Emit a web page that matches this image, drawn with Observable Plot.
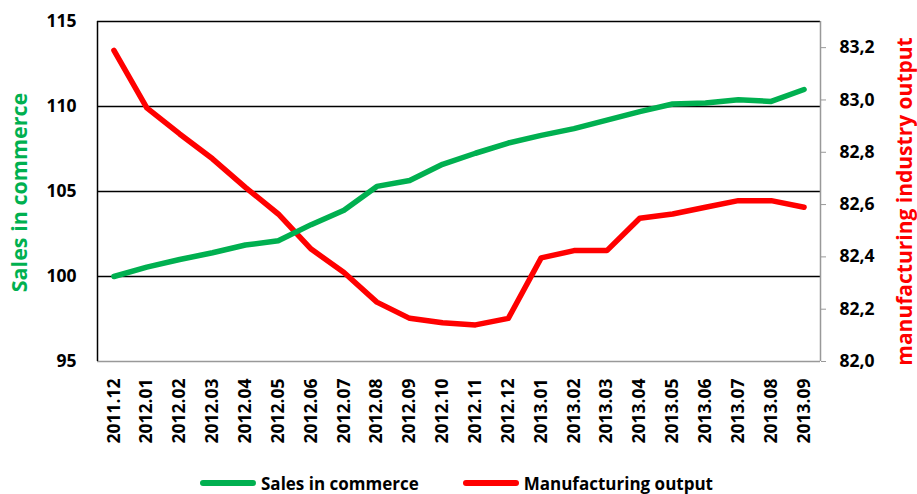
<!DOCTYPE html>
<html><head><meta charset="utf-8">
<script src="https://cdn.jsdelivr.net/npm/d3@7"></script>
<script src="https://cdn.jsdelivr.net/npm/@observablehq/plot@0.6"></script>
<style>
body{margin:0;background:#fff;font-family:"Open Sans",sans-serif;}
#legend{display:flex;height:32px;align-items:center;font-weight:700;font-size:17px;color:#000;}
.sw{display:inline-block;width:56px;height:6px;border-radius:3px;margin-right:5px;}
svg text{font-weight:700;}
</style></head><body>
<div id="chart"></div>
<div id="legend"></div>
<script>
const months = ["2011.12","2012.01","2012.02","2012.03","2012.04","2012.05","2012.06","2012.07","2012.08","2012.09","2012.10","2012.11","2012.12","2013.01","2013.02","2013.03","2013.04","2013.05","2013.06","2013.07","2013.08","2013.09"];
const sales = [100.0,100.55,101.0,101.4,101.85,102.1,103.05,103.9,105.3,105.65,106.6,107.25,107.85,108.3,108.7,109.2,109.7,110.15,110.2,110.4,110.3,111.0];
const manufacturing = [83.19,82.97,82.87,82.775,82.666,82.564,82.43,82.34,82.227,82.165,82.148,82.14,82.165,82.396,82.424,82.424,82.548,82.564,82.59,82.615,82.615,82.59];
const leftTicks = [95,100,105,110,115];
const rightTicks = [82.0,82.2,82.4,82.6,82.8,83.0,83.2];
const seriesNames = ["Sales in commerce","Manufacturing output"];
const colors = ["#00B050","#FF0000"];

const L0 = 95, L1 = 115, R0 = 82.0, R1 = 83.3;
const toLeft = v => L0 + (v - R0) * (L1 - L0) / (R1 - R0);

const salesData = sales.map((v,i)=>({i, v}));
const manData = manufacturing.map((v,i)=>({i, v: toLeft(v)}));

const chart = Plot.plot({
  width: 917, height: 462,
  marginTop: 21, marginBottom: 101, marginLeft: 97, marginRight: 97,
  style: {fontFamily: "'Open Sans', sans-serif", fontWeight: "bold", color: "#000", background: "#fff", overflow: "visible"},
  x: {domain: [-0.5, months.length - 0.5]},
  y: {domain: [L0, L1]},
  marks: [
    Plot.ruleY([100,105,110,115], {stroke: "#000", strokeWidth: 1.5}),
    Plot.ruleY([95], {stroke: "#999", strokeWidth: 1.5}),
    Plot.ruleX([-0.5], {stroke: "#000", strokeWidth: 1.5}),
    Plot.ruleX([months.length - 0.5], {stroke: "#999", strokeWidth: 1.5}),
    Plot.axisY({anchor: "left", ticks: leftTicks, tickSize: 0, tickPadding: 21, fontSize: 17.5, label: null}),
    Plot.axisY({anchor: "right", ticks: rightTicks.map(toLeft), tickFormat: (d,k) => rightTicks[k].toFixed(1).replace(".", ","), tickSize: 5, tickPadding: 14, fontSize: 17.5, stroke: "#999", label: null}),
    Plot.axisX({ticks: d3.range(months.length), tickFormat: i => months[i], tickSize: 0, tickRotate: -90, tickPadding: 17, fontSize: 17.5, label: null}),
    Plot.text(["Sales in commerce"], {frameAnchor: "left", textAnchor: "middle", dx: -77, dy: 1, rotate: -90, fill: colors[0], fontSize: 21.5, fontWeight: "bold"}),
    Plot.text(["manufacturing industry output"], {frameAnchor: "right", textAnchor: "middle", dx: 85, dy: 10, rotate: -90, fill: colors[1], fontSize: 21, fontWeight: "bold"}),
    Plot.line(manData, {x: "i", y: "v", stroke: colors[1], strokeWidth: 5.5, strokeLinecap: "round", strokeLinejoin: "round"}),
    Plot.line(salesData, {x: "i", y: "v", stroke: colors[0], strokeWidth: 5.5, strokeLinecap: "round", strokeLinejoin: "round"})
  ]
});
document.getElementById("chart").appendChild(chart);

const lg = document.getElementById("legend");
lg.style.paddingLeft = "200px";
lg.style.height = "42px";
seriesNames.forEach((n,k)=>{
  const item = document.createElement("span");
  item.style.display = "inline-flex"; item.style.alignItems = "center";
  item.style.marginRight = k === 0 ? "44px" : "0";
  item.innerHTML = `<span class="sw" style="background:${colors[k]}"></span>${n}`;
  lg.appendChild(item);
});
</script>
</body></html>
